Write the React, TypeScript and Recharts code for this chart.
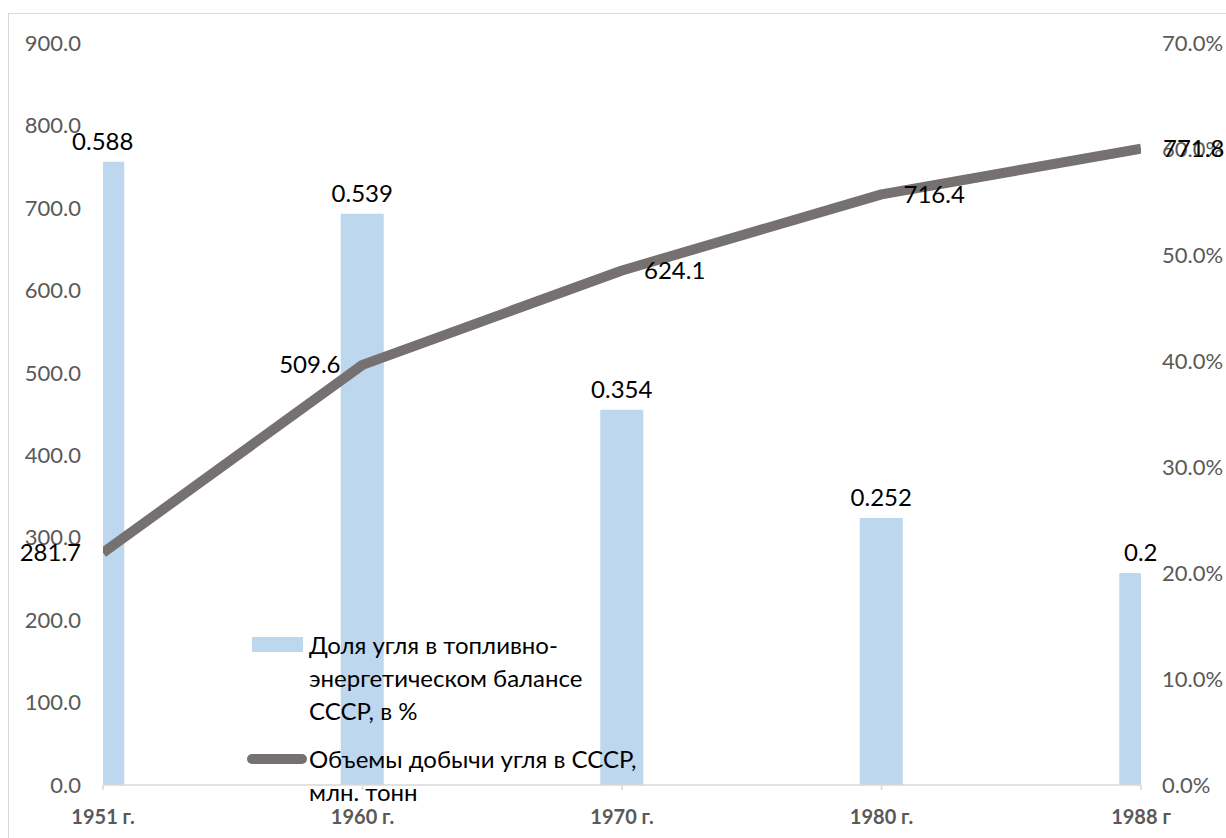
import { ComposedChart, Bar, Line, XAxis, YAxis, LabelList, Legend } from 'recharts';

const years = ['1951 г.', '1960 г.', '1970 г.', '1980 г.', '1988 г'];
const coalShare = [0.588, 0.539, 0.354, 0.252, 0.2];
const coalOutput = [281.7, 509.6, 624.1, 716.4, 771.8];
const leftTicks = [0, 100, 200, 300, 400, 500, 600, 700, 800, 900];
const rightTicks = [0, 0.1, 0.2, 0.3, 0.4, 0.5, 0.6, 0.7];

const shareName = 'Доля угля в топливно-энергетическом балансе СССР, в %';
const outputName = 'Объемы добычи угля в СССР, млн. тонн';

const data = years.map((year, i) => ({
  idx: i,
  year,
  share: coalShare[i],
  output: coalOutput[i],
}));

const FONT = 'Lato, "Open Sans", sans-serif';
const GRAY_TEXT = '#595959';
const AXIS_GRAY = '#d9d9d9';

// Excel put the first two labels to the left of the point, the rest to the right
const renderOutputLabel = (props: any) => {
  const { x, y, value } = props;
  const i = props.index ?? coalOutput.indexOf(Number(value));
  const left = i < 2;
  return (
    <text
      x={left ? x - 22 : x + 22}
      y={y}
      dy="0.35em"
      textAnchor={left ? 'end' : 'start'}
      fill="#000"
      fontSize={24}
    >
      {value}
    </text>
  );
};

const renderLegend = (props: any) => {
  const payload = props.payload || [];
  return (
    <div style={{ fontFamily: FONT, fontSize: 24, lineHeight: '33px', color: '#000', textAlign: 'left' }}>
      {payload.map((entry: any, i: number) => (
        <div key={i} style={{ display: 'flex', alignItems: 'flex-start', marginBottom: 15 }}>
          <div style={{ width: 62, height: 33, position: 'relative', flex: 'none' }}>
            {entry.type === 'line' ? (
              <div
                style={{
                  position: 'absolute',
                  left: 0,
                  top: 12,
                  width: 60,
                  height: 10,
                  borderRadius: 5,
                  background: entry.color,
                }}
              />
            ) : (
              <div
                style={{
                  position: 'absolute',
                  left: 5,
                  top: 9,
                  width: 51,
                  height: 15,
                  background: entry.color,
                }}
              />
            )}
          </div>
          <div style={{ width: 333 }}>{entry.value}</div>
        </div>
      ))}
    </div>
  );
};

export default function App() {
  return (
    <div style={{ position: 'relative', width: 1226, height: 838, overflow: 'hidden', fontFamily: FONT }}>
      <style>{'body{margin:0;overflow:hidden;}'}</style>
      <div
        style={{
          position: 'absolute',
          left: 8,
          top: 13,
          width: 1240,
          height: 840,
          border: `1px solid ${AXIS_GRAY}`,
          boxSizing: 'border-box',
        }}
      />
      <div style={{ position: 'absolute', left: 0, top: 0 }}>
        <ComposedChart
          width={1226}
          height={838}
          data={data}
          margin={{ top: 43, right: 0, bottom: 23, left: 0 }}
        >
          <XAxis
            dataKey="idx"
            type="number"
            domain={[0, 4]}
            ticks={[0, 1, 2, 3, 4]}
            interval={0}
            allowDataOverflow
            tickFormatter={(v: number) => years[v]}
            height={30}
            axisLine={{ stroke: AXIS_GRAY, strokeWidth: 1.5 }}
            tickLine={{ stroke: AXIS_GRAY, strokeWidth: 1.5 }}
            tickSize={5}
            tickMargin={20}
            tick={{ fontSize: 20, fontWeight: 700, fill: GRAY_TEXT }}
          />
          <YAxis
            yAxisId="left"
            orientation="left"
            domain={[0, 900]}
            ticks={leftTicks}
            interval={0}
            width={103}
            axisLine={false}
            tickLine={false}
            tickSize={6}
            tickMargin={16}
            tickFormatter={(v: number) => v.toFixed(1)}
            tick={{ fontSize: 22, fill: GRAY_TEXT }}
          />
          <YAxis
            yAxisId="right"
            orientation="right"
            domain={[0, 0.7]}
            ticks={rightTicks}
            interval={0}
            width={85}
            axisLine={false}
            tickLine={false}
            tickSize={6}
            tickMargin={15}
            tickFormatter={(v: number) => (v * 100).toFixed(1) + '%'}
            tick={{ fontSize: 22, fill: GRAY_TEXT }}
          />
          <Bar
            yAxisId="right"
            dataKey="share"
            name={shareName}
            fill="#bdd7ee"
            barSize={43}
            isAnimationActive={false}
          >
            <LabelList dataKey="share" position="top" offset={12} fill="#000" fontSize={24} />
          </Bar>
          <Line
            yAxisId="left"
            dataKey="output"
            name={outputName}
            type="linear"
            stroke="#767171"
            strokeWidth={10}
            strokeLinejoin="round"
            dot={false}
            activeDot={false}
            legendType="line"
            isAnimationActive={false}
            label={renderOutputLabel}
          />
          <Legend
            layout="horizontal"
            verticalAlign="middle"
            align="center"
            content={renderLegend}
            wrapperStyle={{ position: 'absolute', left: 247, top: 628, width: 420, bottom: 'auto', right: 'auto' }}
          />
        </ComposedChart>
      </div>
    </div>
  );
}
